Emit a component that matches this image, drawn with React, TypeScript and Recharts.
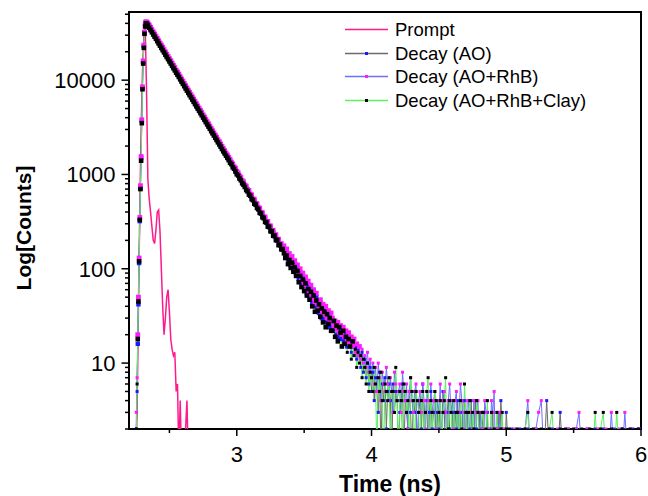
import React from 'react';
import { LineChart, Line, XAxis, YAxis, ReferenceArea, Legend } from 'recharts';

// ---- time grid (ns) ----
const riseTime = [2.25, 2.255, 2.26, 2.265, 2.27, 2.275, 2.28, 2.285, 2.29, 2.295, 2.3, 2.305, 2.31, 2.315, 2.32, 2.325, 2.33, 2.34];
const decayTime = [
  2.35, 2.36, 2.37, 2.38, 2.39, 2.40, 2.41, 2.42, 2.43, 2.44,
  2.45, 2.46, 2.47, 2.48, 2.49, 2.50, 2.51, 2.52, 2.53, 2.54,
  2.55, 2.56, 2.57, 2.58, 2.59, 2.60, 2.61, 2.62, 2.63, 2.64,
  2.65, 2.66, 2.67, 2.68, 2.69, 2.70, 2.71, 2.72, 2.73, 2.74,
  2.75, 2.76, 2.77, 2.78, 2.79, 2.80, 2.81, 2.82, 2.83, 2.84,
  2.85, 2.86, 2.87, 2.88, 2.89, 2.90, 2.91, 2.92, 2.93, 2.94,
  2.95, 2.96, 2.97, 2.98, 2.99, 3.00, 3.01, 3.02, 3.03, 3.04,
  3.05, 3.06, 3.07, 3.08, 3.09, 3.10, 3.11, 3.12, 3.13, 3.14,
  3.15, 3.16, 3.17, 3.18, 3.19, 3.20, 3.21, 3.22, 3.23, 3.24,
  3.25, 3.26, 3.27, 3.28, 3.29, 3.30, 3.31, 3.32, 3.33, 3.34,
  3.35, 3.36, 3.37, 3.38, 3.39, 3.40, 3.41, 3.42, 3.43, 3.44,
  3.45, 3.46, 3.47, 3.48, 3.49, 3.50, 3.51, 3.52, 3.53, 3.54,
  3.55, 3.56, 3.57, 3.58, 3.59, 3.60, 3.61, 3.62, 3.63, 3.64,
  3.65, 3.66, 3.67, 3.68, 3.69, 3.70,
];
const tailTime = [
  3.71, 3.72, 3.73, 3.74, 3.75, 3.76, 3.77, 3.78, 3.79, 3.80,
  3.81, 3.82, 3.83, 3.84, 3.85, 3.86, 3.87, 3.88, 3.89, 3.90,
  3.91, 3.92, 3.93, 3.94, 3.95, 3.96, 3.97, 3.98, 3.99, 4.00,
  4.01, 4.02, 4.03, 4.04, 4.05, 4.06, 4.07, 4.08, 4.09, 4.10,
  4.11, 4.12, 4.13, 4.14, 4.15, 4.16, 4.17, 4.18, 4.19, 4.20,
  4.21, 4.22, 4.23, 4.24, 4.25, 4.26, 4.27, 4.28, 4.29, 4.30,
  4.31, 4.32, 4.33, 4.34, 4.35, 4.36, 4.37, 4.38, 4.39, 4.40,
  4.41, 4.42, 4.43, 4.44, 4.45, 4.46, 4.47, 4.48, 4.49, 4.50,
  4.51, 4.52, 4.53, 4.54, 4.55, 4.56, 4.57, 4.58, 4.59, 4.60,
  4.61, 4.62, 4.63, 4.64, 4.65, 4.66, 4.67, 4.68, 4.69, 4.70,
  4.71, 4.72, 4.73, 4.74, 4.75, 4.76, 4.77, 4.78, 4.79, 4.80,
  4.81, 4.82, 4.83, 4.84, 4.85, 4.86, 4.87, 4.88, 4.89, 4.90,
  4.91, 4.92, 4.93, 4.94, 4.95, 4.96, 4.97, 4.98, 4.99, 5.00,
  5.02, 5.04, 5.06, 5.08, 5.10, 5.12, 5.14, 5.16, 5.18, 5.20,
  5.22, 5.24, 5.26, 5.28, 5.30, 5.32, 5.34, 5.36, 5.38, 5.40,
  5.42, 5.44, 5.46, 5.48, 5.50, 5.52, 5.54, 5.56, 5.58, 5.60,
  5.62, 5.64, 5.66, 5.68, 5.70, 5.72, 5.74, 5.76, 5.78, 5.80,
  5.82, 5.84, 5.86, 5.88, 5.90, 5.92, 5.94, 5.96, 5.98, 6.00,
];

// ---- Decay (AO+RhB+Clay) ----
const clayCounts = [
  // rise
  1, 2, 6, 18, 45, 120, 330, 700, 1400, 3500, 8000, 15000, 22000, 31000, 37000, 40000, 40000, 38500,
  // decay
  36000, 34000, 32200, 30500, 28900, 27400, 25900, 24500, 23200, 22000,
  20800, 19700, 18600, 17600, 16700, 15800, 15000, 14200, 13400, 12700,
  12000, 11400, 10800, 10200, 9640, 9130, 8640, 8180, 7740, 7330,
  6940, 6570, 6220, 5890, 5570, 5270, 4990, 4730, 4480, 4240,
  4010, 3800, 3590, 3400, 3220, 3050, 2880, 2730, 2590, 2450,
  2320, 2190, 2080, 1970, 1860, 1760, 1670, 1580, 1500, 1420,
  1330, 1285, 1190, 1150, 1075, 1005, 975, 905, 868, 806,
  778, 736, 684, 662, 612, 596, 548, 534, 490, 480,
  441, 428, 392, 387, 352, 346, 314, 311, 280, 279,
  250, 251, 224, 225, 201, 203, 178, 181, 161, 162,
  146, 130, 138, 112, 124, 102, 116, 93, 104, 84,
  95, 72, 84, 64, 77, 58, 70, 52, 61, 47,
  57, 40, 52, 35, 46, 36, 42, 31, 38, 27,
  35, 24, 33, 26, 30, 22,
  // tail
  22, 28, 19, 25, 17, 24, 21, 15, 22, 16,
  19, 13, 18, 15, 11, 17, 12, 14, 9, 13,
  10, 12, 7, 11, 9, 6, 10, 5, 8, 7,
  5, 9, 6, 1, 7, 5, 8, 4, 1, 6,
  5, 4, 7, 1, 5, 5, 3, 9, 4, 1,
  5, 4, 1, 6, 5, 3, 4, 1, 7, 5,
  4, 1, 5, 4, 3, 1, 4, 5, 1, 3,
  5, 7, 1, 4, 3, 1, 5, 4, 1, 3,
  4, 1, 3, 4, 7, 1, 2, 4, 3, 1,
  4, 1, 3, 3, 1, 4, 2, 1, 6, 3,
  1, 3, 4, 1, 3, 2, 1, 4, 3, 1,
  1, 3, 3, 1, 2, 4, 1, 1, 3, 1,
  2, 1, 3, 1, 1, 2, 3, 1, 1, 2,
  2, 1, 1, 2, 1, 1, 2, 3, 1, 2,
  1, 1, 2, 1, 1, 2, 3, 1, 1, 2,
  1, 2, 1, 1, 2, 1, 1, 2, 1, 1,
  2, 1, 3, 1, 2, 3, 1, 1, 2, 1,
  3, 1, 2, 1, 1, 2, 1, 1, 2, 1,
];

// ---- Decay (AO) ----
const aoCounts = [
  1, 2, 5, 16, 42, 115, 320, 720, 1500, 3700, 8300, 15500, 23000, 32000, 38000, 41000, 41000, 39500,
  37100, 35000, 33200, 31400, 29800, 28200, 26700, 25200, 23900, 22700,
  21400, 20300, 19200, 18100, 17200, 16300, 15500, 14600, 13800, 13100,
  12400, 11700, 11100, 10500, 9930, 9400, 8900, 8430, 7970, 7550,
  7150, 6770, 6410, 6070, 5740, 5430, 5140, 4870, 4610, 4370,
  4130, 3910, 3700, 3500, 3320, 3140, 2970, 2810, 2670, 2520,
  2390, 2260, 2140, 2030, 1920, 1810, 1720, 1630, 1550, 1460,
  1390, 1300, 1245, 1165, 1120, 1040, 1000, 930, 898, 835,
  805, 748, 722, 670, 648, 600, 580, 537, 520, 480,
  468, 430, 420, 385, 377, 344, 338, 308, 304, 276,
  272, 247, 244, 221, 219, 198, 197, 177, 176, 159,
  160, 140, 150, 125, 131, 110, 124, 98, 112, 88,
  100, 78, 92, 70, 82, 62, 75, 55, 68, 50,
  62, 44, 56, 40, 50, 40, 34, 44, 30, 37,
  29, 35, 27, 32, 24, 30,
  27, 23, 26, 20, 24, 19, 22, 18, 21, 17,
  20, 15, 18, 16, 13, 17, 12, 15, 11, 14,
  12, 9, 13, 8, 11, 7, 10, 6, 9, 5,
  8, 4, 7, 5, 3, 8, 1, 6, 4, 7,
  2, 5, 6, 4, 1, 6, 3, 5, 4, 1,
  3, 4, 6, 1, 4, 3, 2, 5, 3, 1,
  4, 3, 5, 1, 3, 4, 2, 6, 1, 3,
  4, 1, 3, 5, 2, 3, 4, 1, 3, 2,
  4, 1, 5, 3, 1, 3, 4, 2, 1, 3,
  1, 3, 2, 4, 1, 3, 1, 4, 4, 1,
  3, 1, 2, 4, 1, 1, 4, 2, 1, 3,
  1, 2, 3, 1, 1, 3, 1, 2, 1, 3,
  1, 1, 2, 3, 1, 4, 2, 1, 1, 3,
  1, 2, 1, 1, 2, 1, 1, 2, 1, 1,
  2, 1, 1, 1, 4, 1, 2, 1, 1, 3,
  1, 1, 2, 1, 1, 2, 1, 1, 1, 2,
  1, 1, 2, 1, 1, 2, 1, 1, 1, 2,
  1, 1, 2, 1, 1, 1, 2, 1, 1, 2,
];

// ---- Decay (AO+RhB) ----
const rhbCounts = [
  1, 3, 7, 20, 50, 130, 350, 760, 1550, 3800, 8500, 16000, 23500, 32500, 38500, 41500, 41500, 40500,
  38500, 36400, 34500, 32600, 30900, 29300, 27700, 26200, 24800, 23500,
  22300, 21100, 19900, 18800, 17900, 16900, 16100, 15200, 14300, 13600,
  12800, 12200, 11600, 10900, 10300, 9770, 9240, 8750, 8280, 7840,
  7430, 7030, 6660, 6300, 5960, 5640, 5340, 5060, 4790, 4540,
  4290, 4070, 3840, 3640, 3450, 3260, 3080, 2920, 2770, 2620,
  2480, 2340, 2230, 2110, 1990, 1880, 1790, 1690, 1610, 1520,
  1445, 1350, 1295, 1210, 1168, 1080, 1045, 965, 936, 862,
  840, 772, 755, 692, 678, 620, 608, 553, 545, 495,
  490, 444, 440, 398, 394, 356, 354, 318, 318, 285,
  285, 255, 256, 228, 230, 205, 206, 183, 185, 164,
  175, 150, 162, 136, 145, 120, 135, 106, 122, 96,
  110, 86, 100, 76, 90, 68, 82, 60, 74, 54,
  67, 48, 60, 43, 55, 44, 38, 47, 35, 42,
  33, 40, 30, 36, 28, 34,
  30, 25, 28, 23, 27, 21, 25, 20, 24, 19,
  22, 17, 21, 16, 19, 15, 18, 13, 16, 12,
  15, 11, 14, 10, 12, 9, 13, 8, 11, 7,
  10, 6, 9, 5, 10, 7, 4, 8, 6, 5,
  9, 6, 4, 7, 5, 3, 8, 6, 4, 5,
  6, 3, 8, 5, 4, 6, 2, 5, 7, 4,
  3, 5, 6, 1, 4, 5, 3, 6, 4, 2,
  5, 4, 1, 6, 3, 4, 5, 2, 4, 3,
  6, 1, 4, 5, 3, 1, 4, 6, 3, 4,
  2, 4, 5, 1, 3, 6, 4, 2, 3, 1,
  4, 4, 1, 3, 2, 4, 1, 3, 4, 1,
  3, 2, 1, 4, 3, 1, 2, 1, 4, 3,
  5, 1, 2, 1, 3, 1, 1, 2, 1, 1,
  1, 1, 2, 1, 1, 1, 2, 4, 1, 1,
  2, 3, 4, 1, 1, 2, 1, 1, 2, 1,
  1, 1, 2, 1, 1, 2, 3, 1, 1, 2,
  1, 1, 1, 2, 1, 1, 2, 1, 3, 1,
  1, 2, 1, 3, 1, 2, 1, 1, 2, 1,
];

// ---- Prompt (IRF) ----
const promptTime = [
  2.25, 2.26, 2.27, 2.28, 2.29, 2.30, 2.31, 2.32, 2.33, 2.34,
  2.35, 2.36, 2.37, 2.38, 2.39, 2.40, 2.41, 2.42, 2.43, 2.44,
  2.45, 2.46, 2.47, 2.48, 2.49, 2.50, 2.51, 2.52, 2.53, 2.54,
  2.55, 2.56, 2.57, 2.58, 2.59, 2.60, 2.61, 2.62, 2.63, 2.64,
  2.65, 2.66, 2.68, 2.70, 2.72,
];
const promptCounts = [
  1, 3, 40, 400, 3000, 12000, 28000, 38000, 8000, 900,
  550, 400, 280, 200, 185, 260, 400, 420, 250, 100,
  40, 20, 30, 50, 60, 35, 18, 14, 12, 13,
  5, 6, 1, 4, 1, 2, 1, 2, 4, 1,
  1, 2, 1, 2, 1,
];

const seriesNames = ['Prompt', 'Decay (AO)', 'Decay (AO+RhB)', 'Decay (AO+RhB+Clay)'];
const xTicks = [2.5, 3, 3.5, 4, 4.5, 5, 5.5, 6];
const xLabelTicks = [3, 4, 5, 6];
const yTicks = [
  2, 3, 4, 5, 6, 7, 8, 9, 10,
  20, 30, 40, 50, 60, 70, 80, 90, 100,
  200, 300, 400, 500, 600, 700, 800, 900, 1000,
  2000, 3000, 4000, 5000, 6000, 7000, 8000, 9000, 10000,
  20000, 30000, 40000, 50000,
];
const yLabelTicks = [10, 100, 1000, 10000];

const FONT = '"Liberation Sans", Arial, Helvetica, sans-serif';
const X_MIN = 2.2;
const X_MAX = 6;
const Y_MIN = 2;
const Y_MAX = 52800;

const time = [...riseTime, ...decayTime, ...tailTime];
const toData = (ts: number[], cs: number[]) => ts.map((t, i) => ({ t, c: cs[i] }));
const promptData = toData(promptTime, promptCounts);
const aoData = toData(time, aoCounts);
const rhbData = toData(time, rhbCounts);
const clayData = toData(time, clayCounts);

const COLORS = {
  prompt: '#ff1a8c',
  aoLine: '#6a6a6a',
  aoMarker: '#1a1aff',
  rhbLine: '#6f6fff',
  rhbMarker: '#ff1aff',
  clayLine: '#5ef05e',
  clayMarker: '#000000',
};

// markers are drawn a bit larger where the channels overlap densely (high counts)
const makeDot = (color: string, tag: string, bigSize: number, smallSize: number) => (p: any) => {
  if (p == null || p.cx == null || p.cy == null || !isFinite(p.cy)) {
    return <g key={`${tag}-e-${p?.index}`} />;
  }
  const v = p.payload ? p.payload.c : p.value;
  const size = v >= 15 ? bigSize : smallSize;
  const h = size / 2;
  return <rect key={`${tag}-${p.index}`} x={p.cx - h} y={p.cy - h} width={size} height={size} fill={color} />;
};

const XTick = (props: any) => {
  const { x, y, payload } = props;
  const v = payload.value;
  const major = xLabelTicks.includes(v);
  return (
    <g>
      <line x1={x} x2={x} y1={y} y2={y + (major ? 7 : 4)} stroke="#000" strokeWidth={1.5} />
      {major && (
        <text x={x} y={y + 32.5} textAnchor="middle" fontSize={22} fontFamily={FONT} fill="#000">
          {v}
        </text>
      )}
    </g>
  );
};

const YTick = (props: any) => {
  const { x, y, payload } = props;
  const v = payload.value;
  const major = yLabelTicks.includes(v);
  return (
    <g>
      <line x1={x} x2={x - (major ? 7.5 : 4)} y1={y} y2={y} stroke="#000" strokeWidth={1.5} />
      {major && (
        <text x={x - 13.5} y={y} dy="0.36em" textAnchor="end" fontSize={22} fontFamily={FONT} fill="#000">
          {v}
        </text>
      )}
    </g>
  );
};

const legendItems = [
  { name: seriesNames[0], line: COLORS.prompt, marker: null as string | null },
  { name: seriesNames[1], line: COLORS.aoLine, marker: COLORS.aoMarker },
  { name: seriesNames[2], line: COLORS.rhbLine, marker: COLORS.rhbMarker },
  { name: seriesNames[3], line: COLORS.clayLine, marker: COLORS.clayMarker },
];

const LegendContent = () => (
  <div style={{ fontFamily: FONT, fontSize: 18.5, color: '#000' }}>
    {legendItems.map((it) => (
      <div key={it.name} style={{ display: 'flex', alignItems: 'center', height: 23.4 }}>
        <svg width={44} height={23} style={{ display: 'block' }}>
          <line x1={0} x2={43} y1={11.5} y2={11.5} stroke={it.line} strokeWidth={1.6} />
          {it.marker && <rect x={20} y={10} width={3} height={3} fill={it.marker} />}
        </svg>
        <span style={{ marginLeft: 6, lineHeight: '23px', whiteSpace: 'nowrap' }}>{it.name}</span>
      </div>
    ))}
  </div>
);

export default function App() {
  return (
    <div style={{ position: 'absolute', left: 0, top: 0, width: 648, height: 496, background: '#fff' }}>
      <LineChart width={648} height={496} margin={{ top: 12, right: 7, bottom: 0, left: 0 }}>
        <XAxis
          type="number"
          dataKey="t"
          domain={[X_MIN, X_MAX]}
          allowDataOverflow
          ticks={xTicks}
          interval={0}
          tick={<XTick />}
          tickLine={false}
          axisLine={false}
          tickSize={0}
          tickMargin={0}
          height={67}
          label={() => (
            <text x={390} y={491.5} textAnchor="middle" fontSize={23} fontWeight="bold" fontFamily={FONT} fill="#000">
              Time (ns)
            </text>
          )}
        />
        <YAxis
          type="number"
          scale="log"
          domain={[Y_MIN, Y_MAX]}
          allowDataOverflow
          ticks={yTicks}
          interval={0}
          tick={<YTick />}
          tickLine={false}
          axisLine={false}
          tickSize={0}
          tickMargin={0}
          width={129}
          label={() => (
            <text
              x={31}
              y={228}
              transform="rotate(-90, 31, 228)"
              textAnchor="middle"
              fontSize={21}
              fontWeight="bold"
              fontFamily={FONT}
              fill="#000"
            >
              Log[Counts]
            </text>
          )}
        />
        <Line
          data={promptData}
          dataKey="c"
          name={seriesNames[0]}
          stroke={COLORS.prompt}
          strokeWidth={1.5}
          dot={false}
          isAnimationActive={false}
        />
        <Line
          data={aoData}
          dataKey="c"
          name={seriesNames[1]}
          stroke={COLORS.aoLine}
          strokeWidth={1}
          dot={makeDot(COLORS.aoMarker, 'ao', 4.4, 3)}
          isAnimationActive={false}
        />
        <Line
          data={rhbData}
          dataKey="c"
          name={seriesNames[2]}
          stroke={COLORS.rhbLine}
          strokeWidth={1}
          dot={makeDot(COLORS.rhbMarker, 'rhb', 4.8, 3)}
          isAnimationActive={false}
        />
        <Line
          data={clayData}
          dataKey="c"
          name={seriesNames[3]}
          stroke={COLORS.clayLine}
          strokeWidth={1}
          dot={makeDot(COLORS.clayMarker, 'clay', 4.6, 3)}
          isAnimationActive={false}
        />
        <ReferenceArea
          x1={X_MIN}
          x2={X_MAX}
          y1={Y_MIN}
          y2={Y_MAX}
          fill="none"
          fillOpacity={0}
          stroke="#000"
          strokeWidth={2}
          ifOverflow="visible"
        />
        <Legend
          layout="horizontal"
          verticalAlign="middle"
          align="center"
          content={<LegendContent />}
          wrapperStyle={{ left: 345, top: 18.3, width: 300, height: 96 }}
        />
      </LineChart>
    </div>
  );
}
